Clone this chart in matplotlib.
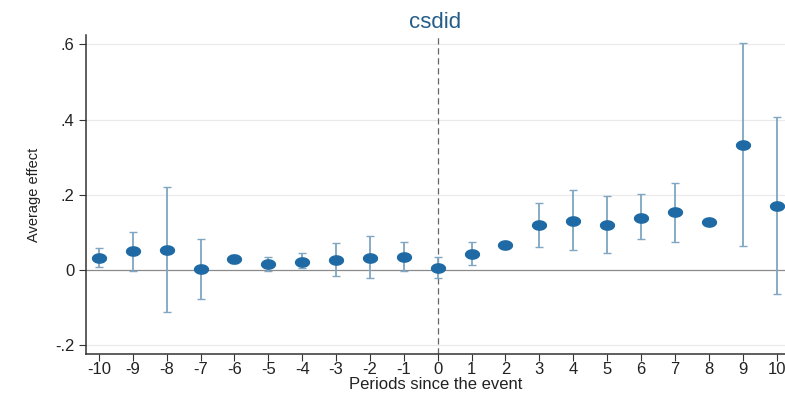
import numpy as np
import matplotlib
matplotlib.use("Agg")
import matplotlib.pyplot as plt
from matplotlib.path import Path

plt.rcParams['font.family'] = ['Liberation Sans', 'DejaVu Sans']
plt.rcParams['axes.unicode_minus'] = False

# event-study estimates
periods = np.arange(-10, 11)
effect = [0.031, 0.049, 0.053, 0.002, 0.028, 0.015, 0.021, 0.027, 0.032, 0.035,
          0.004, 0.042, 0.067, 0.120, 0.131, 0.120, 0.139, 0.153, 0.127, 0.332, 0.170]
ci_low = [0.007, -0.002, -0.113, -0.078, 0.018, -0.004, 0.004, -0.016, -0.023, -0.002,
          -0.023, 0.012, 0.061, 0.062, 0.054, 0.044, 0.083, 0.075, 0.122, 0.063, -0.065]
ci_high = [0.059, 0.100, 0.221, 0.083, 0.040, 0.035, 0.044, 0.071, 0.090, 0.074,
           0.033, 0.074, 0.073, 0.179, 0.213, 0.197, 0.203, 0.231, 0.132, 0.603, 0.407]
yticks = [-0.2, 0, 0.2, 0.4, 0.6]
ytick_labels = ['-.2', '0', '.2', '.4', '.6']

effect = np.array(effect)
err = [effect - np.array(ci_low), np.array(ci_high) - effect]

# stretched ellipse marker, like the reference
t = np.linspace(0, 2 * np.pi, 40)
ellipse = Path(np.column_stack([1.5 * np.cos(t), np.sin(t)]))

fig = plt.figure(figsize=(7.85, 3.94), dpi=100)
ax = fig.add_axes([0.1096, 0.1015, 0.8904, 0.8095])

for y in yticks:
    if y == 0:
        ax.axhline(y, color='#8a8a8a', lw=0.9, zorder=1)
    else:
        ax.axhline(y, color='#eaeaea', lw=0.9, zorder=0)
ax.axvline(0, color='#666666', lw=0.9, ls=(0, (5, 3)), zorder=1)

ax.errorbar(periods, effect, yerr=err, fmt='none', ecolor='#7fa6c2',
            elinewidth=1.3, capsize=3, capthick=1.0, zorder=2)
ax.plot(periods, effect, ls='none', marker=ellipse, ms=10,
        color='#1f6aa5', zorder=3)

ax.set_xlim(-10.38, 10.25)
ax.set_ylim(-0.224, 0.625)
ax.set_xticks(periods)
ax.set_yticks(yticks)
ax.set_yticklabels(ytick_labels)
ax.tick_params(axis='both', labelsize=12, color='#333333', length=5,
               labelcolor='#222222')
ax.tick_params(axis='x', pad=1)

for s in ['top', 'right']:
    ax.spines[s].set_visible(False)
for s in ['left', 'bottom']:
    ax.spines[s].set_color('#333333')
    ax.spines[s].set_linewidth(1.1)

ax.set_ylabel('Average effect', fontsize=10.5, color='#222222', labelpad=10)
ax.set_xlabel('Periods since the event', fontsize=12, color='#222222', labelpad=0)
ax.set_title('csdid', fontsize=16, color='#245d8a', pad=5)

fig.savefig('out.png', dpi=100)
